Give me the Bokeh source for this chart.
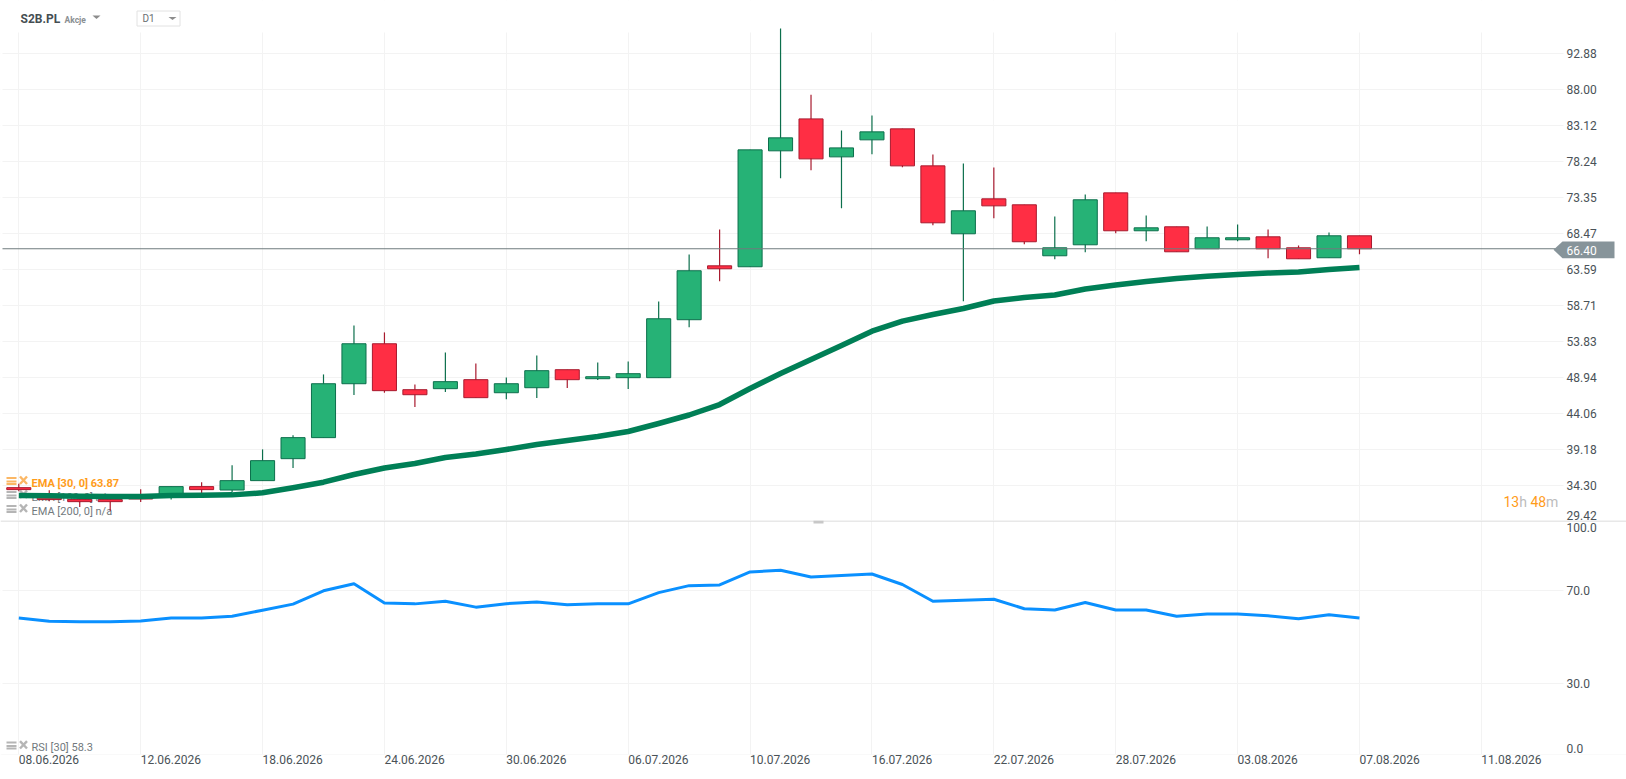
from bokeh.plotting import figure
from bokeh.layouts import column
from bokeh.core.properties import value
from bokeh.models import (Range1d, FixedTicker, Grid, Label, Span, PolyAnnotation, BoxAnnotation,
                          LinearAxis, ColumnDataSource)
from bokeh.embed import file_html
from bokeh.resources import INLINE

opens = [34.01,32.66,32.39,32.39,32.66,32.74,34.15,33.69,34.96,37.94,40.79,48.10,53.52,47.29,47.43,48.65,46.88,47.56,50.00,48.78,48.92,48.92,56.78,64.09,63.96,79.68,84.01,78.86,81.17,82.66,77.64,68.43,73.17,72.36,65.45,66.94,73.98,68.84,69.38,66.40,67.62,68.02,66.53,65.18,68.16]
closes = [33.74,32.39,32.11,32.11,32.47,34.15,33.74,34.96,37.67,40.79,48.10,53.52,47.16,46.61,48.38,46.21,48.10,49.87,48.65,49.05,49.46,56.91,63.42,63.69,79.81,81.44,78.59,80.08,82.25,77.64,69.92,71.55,72.22,67.35,66.53,73.04,68.84,69.24,65.99,67.89,67.89,66.40,65.04,68.16,66.40]
highs = [34.53,33.65,32.97,32.97,33.78,34.15,34.73,37.03,39.20,41.10,49.36,56.00,55.06,48.01,52.35,50.85,48.96,51.94,50.00,50.99,51.13,59.26,65.62,69.01,79.81,96.25,87.30,82.43,84.46,82.66,79.17,77.96,77.41,72.36,70.77,73.75,73.98,70.91,69.38,69.42,69.69,69.01,66.84,68.61,68.16]
lows = [33.51,32.16,31.38,30.84,32.06,32.39,33.28,33.42,34.96,36.67,40.79,46.56,46.88,44.93,46.97,46.21,45.98,46.15,47.51,48.59,47.37,48.92,55.77,62.01,63.96,75.96,77.05,71.90,79.22,77.45,69.59,59.30,70.54,67.02,64.99,65.94,68.51,67.43,65.99,66.40,67.43,65.12,65.04,65.18,65.67]
ema30 = [32.94,32.90,32.85,32.81,32.81,32.94,32.98,33.03,33.31,33.99,34.75,35.79,36.67,37.28,38.10,38.57,39.18,39.86,40.40,40.94,41.62,42.71,43.86,45.28,47.45,49.49,51.39,53.28,55.22,56.58,57.49,58.30,59.32,59.79,60.13,60.94,61.49,61.96,62.37,62.67,62.91,63.11,63.25,63.59,63.87]
rsi30 = [58.2,56.9,56.6,56.6,57.0,58.2,58.2,59.0,61.6,64.2,69.9,72.9,64.7,64.3,65.4,62.9,64.4,65.1,63.9,64.3,64.3,69.1,72.1,72.4,78.0,78.7,75.8,76.4,77.1,72.6,65.4,65.9,66.3,62.2,61.7,64.9,61.7,61.7,59.0,60.0,60.0,59.2,57.9,59.6,58.3]
date_ticks = [0,4,8,12,16,20,24,28,32,36,40,44,48]
date_labels = ["08.06.2026","12.06.2026","18.06.2026","24.06.2026","30.06.2026","06.07.2026","10.07.2026","16.07.2026","22.07.2026","28.07.2026","03.08.2026","07.08.2026","11.08.2026"]
price_ticks = [92.88,88.00,83.12,78.24,73.35,68.47,63.59,58.71,53.83,48.94,44.06,39.18,34.30]
rsi_ticks = [70,30]
last_price = 66.40

FONT = "Roboto"
GRID = "#f3f3f3"
AXIS_TXT = "#4a5257"
ORANGE = "#ff9c1a"
GREY_TXT = "#72797d"
LABEL_PX = "12px"

def XP(px):
    return (px - 18.3) / 30.47
def YP(py):
    return 68.47 - (py - 233) / 7.375
def RP(py):
    return (754 - py) / 2.34

xr = Range1d(XP(0), XP(1626))

def style_y(ax, ticks, fmt):
    ax.ticker = FixedTicker(ticks=ticks)
    ax.major_label_overrides = {t: fmt.format(t) for t in ticks}
    ax.axis_line_color = None
    ax.major_tick_line_color = None
    ax.minor_tick_line_color = None
    ax.major_tick_out = 0
    ax.major_tick_in = 0
    ax.major_label_standoff = 3
    ax.major_label_text_font = FONT
    ax.major_label_text_font_size = LABEL_PX
    ax.major_label_text_color = AXIS_TXT

def txt(fig, x, y, s, color=GREY_TXT, size="11px", style="normal", align="left", level="annotation"):
    fig.add_layout(Label(x=x, y=y, text=s, text_color=color, text_font=FONT, text_font_size=size,
                         text_font_style=style, text_align=align, text_baseline="middle", level=level))

def icon(fig, yf, ytop, color):
    xs0 = [XP(6)] * 3; xs1 = [XP(16)] * 3
    ys = [yf(ytop + 1.5), yf(ytop + 5), yf(ytop + 7.5)]
    fig.segment(xs0, ys, xs1, ys, line_color=color, line_width=2, level="underlay")
    fig.segment([XP(19.5), XP(19.5)], [yf(ytop), yf(ytop + 7.5)], [XP(26.5), XP(26.5)],
                [yf(ytop + 7.5), yf(ytop)], line_color=color, line_width=2.4, level="underlay")

def mask(fig, left, right, top, bottom):
    fig.add_layout(BoxAnnotation(left=left, right=right, top=top, bottom=bottom, fill_color="white",
                                 fill_alpha=1, line_color=None, level="underlay"))

# price pane
p = figure(width=1626, height=520, x_range=xr, y_range=Range1d(YP(520), YP(0)),
           x_axis_location=None, y_axis_location=None, toolbar_location=None,
           output_backend="svg", min_border_left=0, min_border_top=0, min_border_bottom=0, min_border_right=0)
p.outline_line_color = None
p.grid.visible = False
p.add_layout(Grid(dimension=0, ticker=FixedTicker(ticks=date_ticks), grid_line_color=GRID, level="image"))
p.add_layout(Grid(dimension=1, ticker=FixedTicker(ticks=price_ticks), grid_line_color=GRID, level="image"))
mask(p, XP(0), XP(1626), YP(0), YP(32))
mask(p, XP(1563), XP(1626), YP(0), YP(520))
mask(p, XP(0), XP(2), YP(0), YP(520))

ax = LinearAxis(fixed_location=XP(1563))
style_y(ax, price_ticks, "{:.2f}")
p.add_layout(ax, "right")

icon(p, YP, 476, "#fbb765")
icon(p, YP, 490, "#b5b5b5")
icon(p, YP, 504, "#b5b5b5")
txt(p, XP(31), YP(483), "EMA [30, 0] 63.87", ORANGE, "11px", "bold", level="underlay")
txt(p, XP(31), YP(497), "EMA [100, 0] n/a", level="underlay")
txt(p, XP(31), YP(511), "EMA [200, 0] n/a", level="underlay")

idx = list(range(len(opens)))
up = [i for i in idx if closes[i] >= opens[i]]
dn = [i for i in idx if closes[i] < opens[i]]
for sel, fill, edge in ((up, "#26b276", "#0c6f4c"), (dn, "#ff2e44", "#a81a2e")):
    src = ColumnDataSource(dict(x=sel,
                                h=[highs[i] for i in sel], l=[lows[i] for i in sel],
                                t=[max(opens[i], closes[i]) for i in sel],
                                b=[min(opens[i], closes[i]) for i in sel]))
    p.segment("x", "h", "x", "l", source=src, line_color=edge, line_width=1.2)
    p.vbar(x="x", top="t", bottom="b", width=0.79, source=src, fill_color=fill, line_color=edge, line_width=1)

p.line(idx, ema30, line_color="#007f56", line_width=5.5, line_join="round", line_cap="butt")

p.segment([XP(2)], [last_price], [XP(1556)], [last_price], line_color="#6f7b7e", line_width=1.1)
p.add_layout(PolyAnnotation(xs=[XP(1553), XP(1562), XP(1614), XP(1614), XP(1562)],
                            ys=[YP(249.3), YP(241), YP(241), YP(257.7), YP(257.7)],
                            fill_color="#87949a", fill_alpha=1, line_color=None))
txt(p, XP(1566), YP(249.5), f"{last_price:.2f}", "white", LABEL_PX)
txt(p, XP(1566), YP(515), "29.42", AXIS_TXT, LABEL_PX)

# countdown, as text glyphs
p.text(x=[XP(1503), XP(1530)], y=[YP(501), YP(501)], text=["13", "48"], text_color=ORANGE,
       text_font=value(FONT), text_font_size="14px", text_baseline="middle", text_align="left")
p.text(x=[XP(1518.7), XP(1545.5)], y=[YP(501), YP(501)], text=["h", "m"], text_color="#bcbcbc",
       text_font=value(FONT), text_font_size="14px", text_baseline="middle", text_align="left")

txt(p, XP(20), YP(18.5), "S2B.PL", "#454e53", "12px", "bold")
txt(p, XP(64), YP(19), "Akcje", "#8a8f92", "8.5px", "bold")
p.patch([XP(92), XP(100), XP(96)], [YP(15), YP(15), YP(18.5)], fill_color="#8c8c8c", line_color=None)
p.quad(left=[XP(136.5)], right=[XP(179.5)], top=[YP(10.5)], bottom=[YP(25.5)], fill_color="white", line_color="#e2e2e2")
txt(p, XP(142), YP(18), "D1", "#6a6f72", "10px")
p.patch([XP(168), XP(176), XP(172)], [YP(16.5), YP(16.5), YP(19.5)], fill_color="#8c8c8c", line_color=None)

# RSI pane
r = figure(width=1626, height=255, x_range=xr, y_range=Range1d(-0.2, 100),
           x_axis_location="below", y_axis_location=None, toolbar_location=None,
           output_backend="svg", min_border_left=0, min_border_top=0, min_border_bottom=21, min_border_right=0)
r.outline_line_color = None
r.grid.visible = False
r.add_layout(Grid(dimension=0, ticker=FixedTicker(ticks=date_ticks), grid_line_color=GRID, level="image"))
r.add_layout(Grid(dimension=1, ticker=FixedTicker(ticks=[0] + rsi_ticks), grid_line_color=GRID, level="image"))
mask(r, XP(1563), XP(1626), 100, -0.2)
mask(r, XP(0), XP(2), 100, -0.2)

ay = LinearAxis(fixed_location=XP(1563))
style_y(ay, rsi_ticks, "{:.1f}")
r.add_layout(ay, "right")

# date labels start at their gridline, so the label centres sit half a label to the right
LABEL_SHIFT = 0.988
ax2 = r.xaxis[0]
ax2.ticker = FixedTicker(ticks=[t + LABEL_SHIFT for t in date_ticks])
ax2.major_label_overrides = {t + LABEL_SHIFT: s for t, s in zip(date_ticks, date_labels)}
ax2.axis_line_color = None
ax2.major_tick_line_color = None
ax2.minor_tick_line_color = None
ax2.major_tick_out = 0
ax2.major_tick_in = 0
ax2.major_label_standoff = 0
ax2.major_label_text_font = FONT
ax2.major_label_text_font_size = "12px"
ax2.major_label_text_color = AXIS_TXT

r.line(idx, rsi30, line_color="#0a90ff", line_width=3, line_join="round")
r.add_layout(Span(location=RP(520.6), dimension="width", line_color="#e0e0e0", line_width=1.5))
r.add_layout(PolyAnnotation(xs=[XP(813), XP(823), XP(823), XP(813)], ys=[RP(520), RP(520), RP(523), RP(523)],
                            fill_color="#c8c8c8", fill_alpha=1, line_color=None))
txt(r, XP(1566), RP(527), "100.0", AXIS_TXT, LABEL_PX)
txt(r, XP(1566), RP(748), "0.0", AXIS_TXT, LABEL_PX)
icon(r, RP, 741, "#b5b5b5")
txt(r, XP(31), RP(747.5), "RSI [30] 58.3")

layout = column(p, r, spacing=0)
open("out.html", "w").write(file_html(layout, INLINE))
